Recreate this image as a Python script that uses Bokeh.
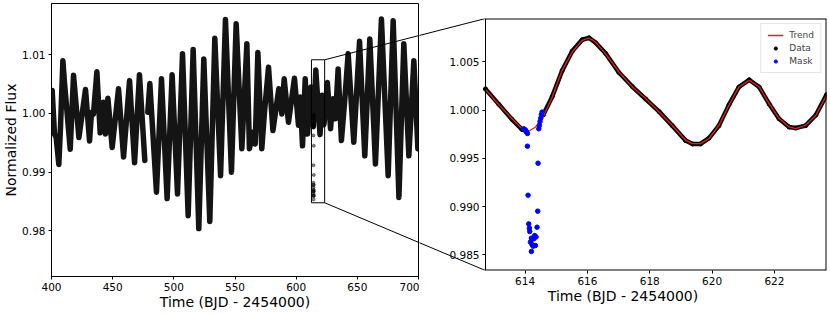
import numpy as np
from bokeh.plotting import figure
from bokeh.layouts import row
from bokeh.models import (Range1d, FixedTicker, PrintfTickFormatter, LinearAxis,
                          Legend, LegendItem)
from bokeh.embed import file_html
from bokeh.resources import INLINE

nan = float("nan")

# ---------------- data ----------------
# left panel: light curve, read as its turning points (nan = data gap)
lc_time = [400.55, 402.46, 403.82, 406.0, 407.4, 409.3, 410.6, 415.3, 418.0, 422.4,
           427.8, 431.1, 432.7, 434.3, 437.1, 439.8, 442.5, 444.1, 446.1, 449.6,
           454.8, 458.9, 463.8, 467.9, 471.9, 476.3, nan, 478.7, 480.4, 485.8,
           489.9, 494.5, 498.6, 503.0, 507.1, 511.7, 515.8, 520.4, 524.5, 529.4,
           533.5, 538.2, 542.2, 547.1, 550.95, 555.6, 559.7, 561.8, 564.6, 566.5,
           568.7, 571.9, 574.1, 577.4, 581.0, 585.8, 588.3, 590.2, 593.7, 598.6,
           601.9, 603.3, 605.2, 607.4, 609.3, 612.0, 614.1, 616.05, 619.5, 621.2,
           622.7, 625.5, 628.1, 630.0, 632.1, 634.3, 637.0, 639.8, 642.5, 647.1,
           651.8, 656.1, 660.2, 664.8, 669.7, 675.2, 679.3, 684.0, 688.0, 692.1,
           696.2, 699.5]
lc_flux = [1.0039, 0.9965, 0.9959, 0.9913, 0.9979, 1.0090, 1.0053, 0.9939, 1.0065, 0.9959,
           1.0041, 0.9953, 1.0002, 0.9999, 1.0071, 0.9967, 1.0019, 0.9965, 1.0026, 0.9942,
           1.0042, 0.9926, 1.0056, 0.9916, 1.0066, 0.9920, nan, 1.0002, 1.0051, 0.9866,
           1.0059, 0.9855, 1.0066, 0.9863, 1.0102, 0.9826, 1.0109, 0.9804, 1.0093, 0.9816,
           1.0128, 0.9894, 1.0160, 0.9900, 1.0153, 0.9940, 1.0119, 0.9940, 0.9968, 0.9948,
           1.0104, 0.9940, 1.0002, 1.0079, 0.9971, 1.0042, 0.9999, 1.0059, 0.9985, 1.0060,
           0.9980, 1.0028, 0.9945, 1.0059, 0.9965, 1.0045, 0.9978, 1.0074, 0.9964, 1.0031,
           0.9981, 1.0053, 0.9974, 1.0025, 0.9991, 1.0076, 0.9954, 1.0025, 1.0102, 0.9951,
           1.0123, 0.9928, 1.0127, 0.9914, 1.0161, 0.9894, 1.0158, 0.9857, 1.0119, 0.9928,
           1.0090, 0.9940]

# zoom box drawn on the left panel
box_time = [612.5, 623.3]
box_flux = [0.98479, 1.00915]

# left panel limits
left_time_lim = [400, 700]
left_flux_lim = [0.97223, 1.01874]

# right panel limits
zoom_time_lim = [612.73, 623.67]
zoom_flux_lim = [0.98339, 1.0095]

# trend (red line)
trend_time = [612.73, 613.16, 613.58, 613.9, 614.07, 614.34, 614.6, 614.87, 615.19, 615.51,
              615.83, 616.05, 616.26, 616.58, 617.01, 617.44, 617.87, 618.3, 618.72, 619.15,
              619.37, 619.63, 619.9, 620.22, 620.54, 620.86, 621.19, 621.51, 621.83, 622.15,
              622.47, 622.68, 623.0, 623.33, 623.67]
trend_flux = [1.00215, 1.00056, 0.99911, 0.99808, 0.99774, 0.99826, 0.99946, 1.00136, 1.00413, 1.00603,
              1.00724, 1.00748, 1.00706, 1.00586, 1.00396, 1.00241, 1.00120, 0.99982, 0.99844, 0.99689,
              0.99654, 0.99654, 0.99706, 0.99844, 1.00051, 1.00241, 1.0031, 1.00241, 1.00068, 0.99913,
              0.99827, 0.9981, 0.99844, 0.99948, 1.00155]

# data (black band) - masked window left out
data_time = [612.73, 613.16, 613.58, 613.9, 614.02, nan, 614.58, 614.87, 615.19, 615.51,
             615.83, 616.05, 616.26, 616.58, 617.01, 617.44, 617.87, 618.3, 618.72, 619.15,
             619.37, 619.63, 619.9, 620.22, 620.54, 620.86, 621.19, 621.51, 621.83, 622.15,
             622.47, 622.68, 623.0, 623.33, 623.67]
data_flux = [1.00220, 1.00060, 0.99905, 0.99800, 0.99790, nan, 0.99950, 1.00140, 1.00410, 1.00610,
             1.00730, 1.00750, 1.00700, 1.00590, 1.00390, 1.00245, 1.00115, 0.99985, 0.99840, 0.99685,
             0.99650, 0.99650, 0.99710, 0.99840, 1.00055, 1.00240, 1.00315, 1.00240, 1.00065, 0.99910,
             0.99825, 0.99815, 0.99840, 0.99950, 1.00160]

# masked points (blue)
mask_time = [613.956, 613.988, 614.010, 614.031, 614.052, 614.074, 614.074, 614.095, 614.117, 614.138,
             614.149, 614.202, 614.170, 614.224, 614.202, 614.256, 614.277, 614.309, 614.352, 614.331,
             614.384, 614.406, 614.416, 614.438, 614.459, 614.480, 614.502, 614.523, 614.544]
mask_flux = [0.99807, 0.99800, 0.99793, 0.99783, 0.99772, 0.99759, 0.99627, 0.99119, 0.98822, 0.98778,
             0.98743, 0.98674, 0.98633, 0.98608, 0.98536, 0.98591, 0.98667, 0.98701, 0.98687, 0.98598,
             0.98788, 0.98954, 0.99451, 0.99807, 0.99841, 0.99883, 0.99917, 0.99952, 0.99980]

left_xticks = [400, 450, 500, 550, 600, 650, 700]
left_yticks = [0.98, 0.99, 1.00, 1.01]
right_xticks = [614, 616, 618, 620, 622]
right_yticks = [0.985, 0.990, 0.995, 1.000, 1.005]

x_title = "Time (BJD - 2454000)"
y_title = "Normalized Flux"

# ---------------- layout (pixels) ----------------
FONT = "DejaVu Sans"
W_TOTAL, H_TOTAL = 830, 314
# left figure: frame 50..418 x 3..276
L_W = 419
L_FL, L_FR, L_FT, L_FB = 50, 418, 3, 276
# right figure: canvas 419..830, frame 419..826 x 18..270, zoom box left edge at 485
R_W = W_TOTAL - L_W
R_FL, R_FR, R_FT, R_FB = L_W, 826, 18, 270
R_BOX_L = 485

# right figure x range: box [zoom_time_lim] spans R_BOX_L..R_FR, frame extends left to R_FL
r_upp = (zoom_time_lim[1] - zoom_time_lim[0]) / (R_FR - R_BOX_L)
right_xlim = (zoom_time_lim[0] - (R_BOX_L - R_FL) * r_upp, zoom_time_lim[1])
right_ylim = tuple(zoom_flux_lim)


def page_of(x, y, fl, fr, ft, fb, xlim, ylim):
    px = fl + (x - xlim[0]) / (xlim[1] - xlim[0]) * (fr - fl)
    py = ft + (ylim[1] - y) / (ylim[1] - ylim[0]) * (fb - ft)
    return px, py


def data_of(px, py, fl, fr, ft, fb, xlim, ylim):
    x = xlim[0] + (px - fl) / (fr - fl) * (xlim[1] - xlim[0])
    y = ylim[1] - (py - ft) / (fb - ft) * (ylim[1] - ylim[0])
    return x, y


LGEO = (L_FL, L_FR, L_FT, L_FB, left_time_lim, left_flux_lim)
RGEO = (R_FL, R_FR, R_FT, R_FB, right_xlim, right_ylim)


def style_axis(ax):
    ax.axis_line_color = "black"
    ax.major_tick_line_color = "black"
    ax.major_tick_in = 0
    ax.major_tick_out = 3
    ax.minor_tick_line_color = None
    ax.major_label_standoff = 3
    ax.major_label_text_font = FONT
    ax.major_label_text_font_size = "10.5px"
    ax.major_label_text_color = "black"
    ax.axis_label_text_font = FONT
    ax.axis_label_text_font_size = "14px"
    ax.axis_label_text_font_style = "normal"
    ax.axis_label_text_color = "black"


# ---------------- left panel ----------------
p1 = figure(width=L_W, height=H_TOTAL, title=None, output_backend="svg", toolbar_location=None,
            x_range=Range1d(*left_time_lim), y_range=Range1d(*left_flux_lim),
            min_border_left=L_FL, min_border_right=L_W - L_FR,
            min_border_top=L_FT, min_border_bottom=H_TOTAL - L_FB)
p1.frame_align = False
p1.grid.visible = False
p1.outline_line_color = "black"
p1.outline_line_alpha = 1
p1.background_fill_color = "white"
p1.border_fill_color = "white"
style_axis(p1.xaxis[0])
style_axis(p1.yaxis[0])
p1.xaxis.axis_label = x_title
p1.yaxis.axis_label = y_title
p1.xaxis.axis_label_standoff = 0
p1.yaxis.axis_label_standoff = 0
p1.xaxis.ticker = FixedTicker(ticks=left_xticks)
p1.yaxis.ticker = FixedTicker(ticks=left_yticks)
p1.xaxis.formatter = PrintfTickFormatter(format="%d")
p1.yaxis.formatter = PrintfTickFormatter(format="%.2f")

p1.line(np.array(lc_time), np.array(lc_flux), line_color="black", line_alpha=0.92,
        line_width=5.5, line_join="round", line_cap="round")
p1.scatter(mask_time, mask_flux, size=3, color="black", alpha=0.45)
p1.quad(left=[box_time[0]], right=[box_time[1]], bottom=[box_flux[0]], top=[box_flux[1]],
        fill_color=None, line_color="black", line_width=1)

# ---------------- right panel ----------------
p2 = figure(width=R_W, height=H_TOTAL, title=None, output_backend="svg", toolbar_location=None,
            x_range=Range1d(*right_xlim), y_range=Range1d(*right_ylim),
            y_axis_location=None,
            min_border_left=0, min_border_right=R_W - (R_FR - L_W),
            min_border_top=R_FT, min_border_bottom=H_TOTAL - R_FB)
p2.frame_align = False
p2.grid.visible = False
p2.outline_line_color = None
p2.background_fill_color = "white"
p2.border_fill_color = "white"
style_axis(p2.xaxis[0])
p2.xaxis.axis_line_color = None
p2.xaxis.axis_label = x_title
p2.xaxis.axis_label_standoff = 0
p2.xaxis.ticker = FixedTicker(ticks=right_xticks)
p2.xaxis.formatter = PrintfTickFormatter(format="%d")

yax = LinearAxis(fixed_location=zoom_time_lim[0], ticker=FixedTicker(ticks=right_yticks),
                 formatter=PrintfTickFormatter(format="%.3f"))
style_axis(yax)
p2.add_layout(yax, "left")

p2.line(np.array(data_time), np.array(data_flux), line_color="black", line_width=4.5,
        line_join="round", line_cap="round")
r_data = p2.scatter(data_time, data_flux, size=4, color="black")
r_trend = p2.line(trend_time, trend_flux, line_color="#e8201c", line_width=1.3)
r_mask = p2.scatter(mask_time, mask_flux, size=4.5, color="blue")

# zoom box edges at the frame border (top, bottom, right); left edge is the y axis line
p2.segment(x0=[zoom_time_lim[0], zoom_time_lim[0], zoom_time_lim[1]],
           y0=[zoom_flux_lim[1], zoom_flux_lim[0], zoom_flux_lim[0]],
           x1=[zoom_time_lim[1], zoom_time_lim[1], zoom_time_lim[1]],
           y1=[zoom_flux_lim[1], zoom_flux_lim[0], zoom_flux_lim[1]],
           line_color="black", line_width=2)

legend = Legend(items=[LegendItem(label="Trend", renderers=[r_trend]),
                       LegendItem(label="Data", renderers=[r_data]),
                       LegendItem(label="Mask", renderers=[r_mask])],
                location="top_right", margin=5, padding=6, spacing=3,
                glyph_width=16, glyph_height=8, label_height=10, label_standoff=6,
                label_text_font=FONT, label_text_font_size="9px",
                border_line_color="#cccccc", border_line_width=1,
                background_fill_color="white", background_fill_alpha=0.8)
p2.add_layout(legend)

# ---------------- connector lines (zoom box corners -> right panel corners) ----------------
corner_pairs = [((box_time[1], box_flux[1]), (zoom_time_lim[0], zoom_flux_lim[1])),
                ((box_time[1], box_flux[0]), (zoom_time_lim[0], zoom_flux_lim[0]))]
for (lx, ly), (rx, ry) in corner_pairs:
    a_page = page_of(lx, ly, *LGEO)
    b_page = page_of(rx, ry, *RGEO)
    bx_l, by_l = data_of(*b_page, *LGEO)
    ax_r, ay_r = data_of(*a_page, *RGEO)
    p1.segment(x0=[lx], y0=[ly], x1=[bx_l], y1=[by_l], line_color="black", line_width=1)
    p2.segment(x0=[ax_r], y0=[ay_r], x1=[rx], y1=[ry], line_color="black", line_width=1)

layout = row(p1, p2, spacing=0)
open("out.html", "w").write(file_html(layout, INLINE))
